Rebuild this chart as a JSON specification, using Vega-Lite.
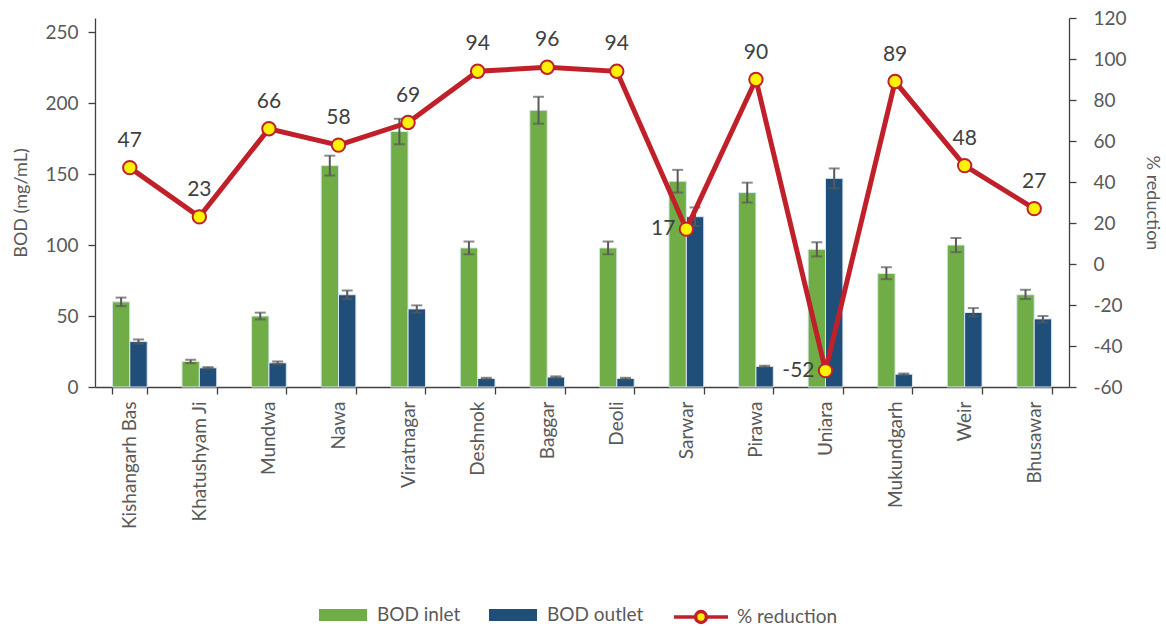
{
  "$schema": "https://vega.github.io/schema/vega-lite/v6.json",
  "width": 974,
  "height": 369,
  "autosize": {"type": "none"},
  "padding": {"left": 95, "top": 18, "right": 97, "bottom": 243},
  "background": "white",
  "config": {
    "view": {"stroke": null},
    "font": "Lato",
    "locale": {"number": {"decimal": ".", "thousands": ",", "grouping": [3], "currency": ["$", ""], "minus": "-"}},
    "axis": {
      "grid": false,
      "domainColor": "#404040",
      "tickColor": "#404040",
      "domainWidth": 1.3,
      "tickWidth": 1.3,
      "labelColor": "#595959",
      "titleColor": "#595959",
      "labelFontSize": 19,
      "titleFontSize": 18,
      "titleFontWeight": "normal",
      "labelFont": "Lato",
      "titleFont": "Lato"
    },
    "legend": {
      "labelFontSize": 19,
      "labelColor": "#595959",
      "labelFont": "Lato"
    }
  },
  "datasets": {
    "bars": [
      {"site": "Kishangarh Bas", "series": "BOD inlet", "value": 60, "lo": 57, "hi": 63},
      {"site": "Kishangarh Bas", "series": "BOD outlet", "value": 32, "lo": 30.5, "hi": 33.5},
      {"site": "Khatushyam Ji", "series": "BOD inlet", "value": 18, "lo": 16.8, "hi": 19.2},
      {"site": "Khatushyam Ji", "series": "BOD outlet", "value": 13.5, "lo": 13, "hi": 14},
      {"site": "Mundwa", "series": "BOD inlet", "value": 50, "lo": 47.6, "hi": 52.4},
      {"site": "Mundwa", "series": "BOD outlet", "value": 17, "lo": 16, "hi": 18},
      {"site": "Nawa", "series": "BOD inlet", "value": 156, "lo": 149, "hi": 163},
      {"site": "Nawa", "series": "BOD outlet", "value": 65, "lo": 62, "hi": 68},
      {"site": "Viratnagar", "series": "BOD inlet", "value": 180, "lo": 171, "hi": 189},
      {"site": "Viratnagar", "series": "BOD outlet", "value": 55, "lo": 52.5, "hi": 57.5},
      {"site": "Deshnok", "series": "BOD inlet", "value": 98, "lo": 93.5, "hi": 102.5},
      {"site": "Deshnok", "series": "BOD outlet", "value": 6, "lo": 5.5, "hi": 6.5},
      {"site": "Baggar", "series": "BOD inlet", "value": 195, "lo": 185.5, "hi": 204.5},
      {"site": "Baggar", "series": "BOD outlet", "value": 7, "lo": 6.5, "hi": 7.5},
      {"site": "Deoli", "series": "BOD inlet", "value": 98, "lo": 93.5, "hi": 102.5},
      {"site": "Deoli", "series": "BOD outlet", "value": 6, "lo": 5.5, "hi": 6.5},
      {"site": "Sarwar", "series": "BOD inlet", "value": 145, "lo": 137, "hi": 153},
      {"site": "Sarwar", "series": "BOD outlet", "value": 120, "lo": 113.5, "hi": 126.5},
      {"site": "Pirawa", "series": "BOD inlet", "value": 137, "lo": 130, "hi": 144},
      {"site": "Pirawa", "series": "BOD outlet", "value": 14.5, "lo": 14, "hi": 15},
      {"site": "Uniara", "series": "BOD inlet", "value": 97, "lo": 92, "hi": 102},
      {"site": "Uniara", "series": "BOD outlet", "value": 147, "lo": 140, "hi": 154},
      {"site": "Mukundgarh", "series": "BOD inlet", "value": 80, "lo": 76, "hi": 84.4},
      {"site": "Mukundgarh", "series": "BOD outlet", "value": 9, "lo": 8.5, "hi": 9.5},
      {"site": "Weir", "series": "BOD inlet", "value": 100, "lo": 95, "hi": 105},
      {"site": "Weir", "series": "BOD outlet", "value": 52.5, "lo": 49.7, "hi": 55.6},
      {"site": "Bhusawar", "series": "BOD inlet", "value": 65, "lo": 62, "hi": 68.5},
      {"site": "Bhusawar", "series": "BOD outlet", "value": 48, "lo": 45.5, "hi": 50}
    ],
    "red": [
      {"site": "Kishangarh Bas", "reduction": 47},
      {"site": "Khatushyam Ji", "reduction": 23},
      {"site": "Mundwa", "reduction": 66},
      {"site": "Nawa", "reduction": 58},
      {"site": "Viratnagar", "reduction": 69},
      {"site": "Deshnok", "reduction": 94},
      {"site": "Baggar", "reduction": 96},
      {"site": "Deoli", "reduction": 94},
      {"site": "Sarwar", "reduction": 17},
      {"site": "Pirawa", "reduction": 90},
      {"site": "Uniara", "reduction": -52},
      {"site": "Mukundgarh", "reduction": 89},
      {"site": "Weir", "reduction": 48},
      {"site": "Bhusawar", "reduction": 27}
    ]
  },
  "encoding": {
    "x": {
      "field": "site",
      "type": "nominal",
      "sort": null,
      "scale": {"paddingInner": 0.5, "paddingOuter": 0.25},
      "axis": {"title": null, "labelAngle": -90, "tickBand": "extent", "tickSize": 7, "labelPadding": 7}
    }
  },
  "layer": [
    {
      "data": {"name": "bars"},
      "encoding": {
        "xOffset": {"field": "series", "type": "nominal", "sort": ["BOD inlet", "BOD outlet"]}
      },
      "layer": [
        {
          "mark": {"type": "bar", "stroke": "#dbe6f0", "strokeWidth": 1},
          "encoding": {
            "y": {
              "field": "value",
              "type": "quantitative",
              "scale": {"domain": [0, 250]},
              "axis": {"title": "BOD (mg/mL)", "values": [0, 50, 100, 150, 200, 250], "tickSize": 7, "labelPadding": 10, "titlePadding": 14}
            },
            "fill": {
              "field": "series",
              "type": "nominal",
              "scale": {"domain": ["BOD inlet", "BOD outlet"], "range": ["#70AD47", "#1F4E79"]},
              "legend": {
                "title": null,
                "orient": "none",
                "direction": "horizontal",
                "legendX": 236,
                "legendY": 585,
                "symbolType": "M-2,-0.5H2V0.5H-2Z",
                "symbolSize": 576,
                "symbolStrokeWidth": 0,
                "labelOffset": 22,
                "columnPadding": 28
              }
            }
          }
        },
        {
          "mark": {"type": "rule", "color": "#595959", "strokeWidth": 2},
          "encoding": {
            "y": {"field": "lo", "type": "quantitative"},
            "y2": {"field": "hi"}
          }
        },
        {
          "mark": {"type": "tick", "color": "#595959", "thickness": 2, "size": 11},
          "encoding": {"y": {"field": "lo", "type": "quantitative"}}
        },
        {
          "mark": {"type": "tick", "color": "#595959", "thickness": 2, "size": 11},
          "encoding": {"y": {"field": "hi", "type": "quantitative"}}
        }
      ]
    },
    {
      "data": {"name": "red"},
      "encoding": {
        "y": {
          "field": "reduction",
          "type": "quantitative",
          "scale": {"domain": [-60, 120]},
          "axis": {"orient": "right", "title": "% reduction", "values": [-60, -40, -20, 0, 20, 40, 60, 80, 100, 120], "tickSize": 7, "labelPadding": 17, "titlePadding": 16}
        }
      },
      "layer": [
        {
          "mark": {"type": "line", "strokeWidth": 5},
          "encoding": {
            "stroke": {
              "datum": "% reduction",
              "type": "nominal",
              "scale": {"range": ["#C0202A"]},
              "legend": {
                "title": null,
                "orient": "none",
                "direction": "horizontal",
                "legendX": 592,
                "legendY": 585,
                "symbolType": "M-2.25,0H-0.45M0.45,0H2.25M0.45,0A0.45,0.45 0 1,1 -0.45,0A0.45,0.45 0 1,1 0.45,0Z",
                "symbolSize": 576,
                "symbolStrokeWidth": 3.5,
                "symbolFillColor": "#FFF200",
                "labelOffset": 22,
                "encode": {
                  "symbols": {
                    "update": {
                      "fill": {"value": "#FFF200"},
                      "fillOpacity": {"value": 1},
                      "strokeWidth": {"value": 3.5}
                    }
                  }
                }
              }
            }
          }
        },
        {
          "mark": {"type": "point", "filled": true, "fill": "#FFF200", "stroke": "#C0202A", "strokeWidth": 2, "size": 180, "opacity": 1}
        },
        {
          "transform": [{"filter": "datum.reduction > 20"}],
          "mark": {"type": "text", "fontSize": 21, "color": "#404040", "baseline": "alphabetic", "dy": -21, "font": "Lato"},
          "encoding": {"text": {"field": "reduction", "type": "quantitative"}}
        },
        {
          "transform": [{"filter": "datum.reduction < 20"}],
          "mark": {"type": "text", "fontSize": 21, "color": "#404040", "baseline": "middle", "align": "right", "dx": -11, "font": "Lato"},
          "encoding": {"text": {"field": "reduction", "type": "quantitative"}}
        }
      ]
    }
  ],
  "resolve": {"scale": {"y": "independent"}}
}
